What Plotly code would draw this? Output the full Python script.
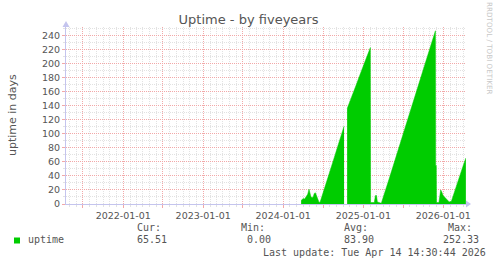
import plotly.graph_objects as go

# ---- data ----
dates = [
    "2024-03-23", "2024-03-28", "2024-04-02", "2024-04-08", "2024-04-15", "2024-04-22",
    "2024-04-28", "2024-05-02", "2024-05-06", "2024-05-12", "2024-05-17", "2024-05-22",
    "2024-05-27", "2024-06-01", "2024-06-06", "2024-06-12", "2024-06-17", "2024-07-01",
    "2024-07-15", "2024-08-01", "2024-08-15", "2024-09-01", "2024-09-15", "2024-10-05",
    "2024-10-12",
    "2024-10-19", "2024-11-01", "2024-11-15", "2024-12-01", "2024-12-15", "2025-01-01",
    "2025-01-15", "2025-02-01", "2025-02-02", "2025-02-03", "2025-02-20", "2025-02-25",
    "2025-03-02", "2025-03-06", "2025-03-20", "2025-03-24", "2025-05-01", "2025-06-01",
    "2025-07-01", "2025-08-01", "2025-09-01", "2025-10-01", "2025-11-01", "2025-11-26",
    "2025-11-27", "2025-11-30", "2025-12-01", "2025-12-12", "2025-12-20", "2025-12-24",
    "2025-12-31", "2026-01-10", "2026-01-20", "2026-01-28", "2026-02-07", "2026-02-20",
    "2026-03-05", "2026-03-20", "2026-04-01", "2026-04-14",
]
uptime_days = [
    5, 6, 8, 7, 10, 14,
    21, 17, 11, 9, 10, 15,
    16, 12, 6, 3, 2, 15,
    29, 46, 60, 77, 91, 111,
    None,
    136, 146, 158, 171, 183, 197,
    208, 222, 223, 2, 2, 12,
    12, 3, 1, 1, 38, 69,
    99, 130, 161, 191, 222, 247,
    55, 55, 2, 2, 20, 18,
    12, 9, 5, 3, 4, 17,
    30, 42, 54, 65.51,
]

x_range = ["2021-04-14 14:30:44", "2026-04-14 14:30:44"]
major_ticks = ["2021-07-01", "2022-01-01", "2022-07-01", "2023-01-01", "2023-07-01",
               "2024-01-01", "2024-07-01", "2025-01-01", "2025-07-01", "2026-01-01"]
major_labels = ["", "2022-01-01", "", "2023-01-01", "", "2024-01-01", "",
                "2025-01-01", "", "2026-01-01"]
y_max = 252.4

series_name = "uptime"
stat_heads = ["Cur:", "Min:", "Avg:", "Max:"]
stat_values = ["65.51", "0.00", "83.90", "252.33"]
last_update = "Last update: Tue Apr 14 14:30:44 2026"
title_text = "Uptime - by fiveyears"
y_title = "uptime in days"
watermark = "RRDTOOL / TOBI OETIKER"

# ---- geometry helpers (pixel -> paper) ----
W, H = 497, 264
L, R, T, B = 66, 31, 27, 60
PW, PH = W - L - R, H - T - B


def px(x):
    return (x - L) / PW


def py(y):
    return (H - B - y) / PH


GREEN = "#00CC00"
TXT = "#555555"
MGRID = "#f2a8a8"
GRID = "#e2e2e2"
AXIS = "#c4c4ee"

# split the series into runs of known values (unknown data leaves a gap)
runs = []
cur_x, cur_y = [], []
for d, v in zip(dates, uptime_days):
    if v is None:
        if cur_x:
            runs.append((cur_x, cur_y))
        cur_x, cur_y = [], []
    else:
        cur_x.append(d)
        cur_y.append(v)
if cur_x:
    runs.append((cur_x, cur_y))

fig = go.Figure()
for rx, ry in runs:
    fig.add_trace(go.Scatter(
        x=rx, y=ry, mode="lines", fill="tozeroy",
        line=dict(color=GREEN, width=0.5), fillcolor=GREEN,
        hoverinfo="skip", name=series_name,
    ))

font_sans = "DejaVu Sans"
font_mono = "DejaVu Sans Mono"

fig.update_layout(
    width=W, height=H, autosize=False,
    margin=dict(l=L, r=R, t=T, b=B, pad=0),
    paper_bgcolor="white", plot_bgcolor="white",
    showlegend=False,
    title=dict(text=title_text, x=0.5, xref="container", xanchor="center",
               y=1 - 19 / H, yref="container", yanchor="middle",
               font=dict(family=font_sans, size=13, color=TXT)),
    xaxis=dict(
        type="date", range=x_range, tickmode="array",
        tickvals=major_ticks, ticktext=major_labels,
        tickfont=dict(family=font_sans, size=9.5, color=TXT),
        showgrid=True, gridcolor=MGRID, griddash="1px,1px", gridwidth=1,
        ticks="outside", ticklen=3, tickcolor=MGRID,
        minor=dict(dtick="M1", tick0="2021-01-01", showgrid=True, gridcolor=GRID,
                   griddash="1px,1px", ticks="outside", ticklen=2, tickcolor=GRID),
        showline=True, linecolor=AXIS, linewidth=1, zeroline=False, fixedrange=True,
    ),
    yaxis=dict(
        range=[0, y_max], tick0=0, dtick=20,
        tickfont=dict(family=font_sans, size=9.5, color=TXT),
        showgrid=True, gridcolor=MGRID, griddash="1px,1px", gridwidth=1,
        ticks="outside", ticklen=3, tickcolor=MGRID,
        minor=dict(dtick=10, showgrid=True, gridcolor=GRID, griddash="1px,1px",
                   ticks="outside", ticklen=2, tickcolor=GRID),
        showline=True, linecolor=AXIS, linewidth=1, zeroline=False, fixedrange=True,
    ),
)

ann = []
ann.append(dict(text=y_title, x=px(12), y=py(115), xref="paper", yref="paper",
                textangle=-90, showarrow=False, xanchor="center", yanchor="middle",
                font=dict(family=font_sans, size=11, color=TXT)))
ann.append(dict(text=watermark, x=px(490), y=py(48), xref="paper", yref="paper",
                textangle=90, showarrow=False, xanchor="center", yanchor="middle",
                font=dict(family=font_sans, size=7.2, color="#c8c8c8")))
ann.append(dict(text=series_name, x=px(27), y=py(240), xref="paper", yref="paper",
                showarrow=False, xanchor="left", yanchor="middle",
                font=dict(family=font_mono, size=10, color=TXT)))
head_x = [136, 240, 343, 447]
val_x = [136, 246, 343, 441.5]
for hx, h in zip(head_x, stat_heads):
    ann.append(dict(text=h, x=px(hx), y=py(227), xref="paper", yref="paper",
                    showarrow=False, xanchor="left", yanchor="middle",
                    font=dict(family=font_mono, size=10, color=TXT)))
for vx, v in zip(val_x, stat_values):
    ann.append(dict(text=v, x=px(vx), y=py(240), xref="paper", yref="paper",
                    showarrow=False, xanchor="left", yanchor="middle",
                    font=dict(family=font_mono, size=10, color=TXT)))
ann.append(dict(text=last_update, x=px(262), y=py(252), xref="paper", yref="paper",
                showarrow=False, xanchor="left", yanchor="middle",
                font=dict(family=font_mono, size=10, color=TXT)))
for a in ann:
    a["borderpad"] = 0
fig.update_layout(annotations=ann)

shapes = []
# legend colour box
shapes.append(dict(type="rect", xref="paper", yref="paper",
                   x0=px(14), x1=px(20), y0=py(243.5), y1=py(237.5),
                   fillcolor=GREEN, line=dict(width=0)))
# axis arrows
shapes.append(dict(type="path", xref="paper", yref="paper",
                   path=f"M {px(466)} {py(200.5)} L {px(471)} {py(204)} L {px(466)} {py(207.5)} Z",
                   fillcolor=AXIS, line=dict(width=0)))
shapes.append(dict(type="path", xref="paper", yref="paper",
                   path=f"M {px(62.5)} {py(27)} L {px(66)} {py(21)} L {px(69.5)} {py(27)} Z",
                   fillcolor=AXIS, line=dict(width=0)))
shapes.append(dict(type="line", xref="paper", yref="paper",
                   x0=px(466), x1=px(468), y0=py(204), y1=py(204),
                   line=dict(color=AXIS, width=1)))
fig.update_layout(shapes=shapes)

fig.write_html("out.html")
